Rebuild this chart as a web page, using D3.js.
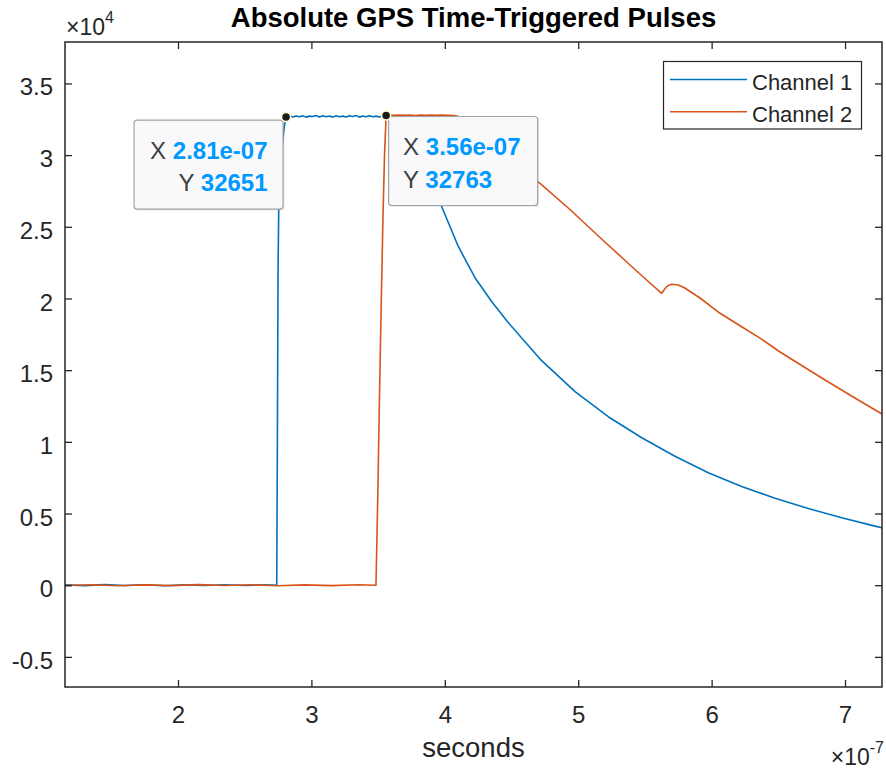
<!DOCTYPE html>
<html>
<head>
<meta charset="utf-8">
<script src="https://cdn.jsdelivr.net/npm/d3@7"></script>
<style>
  html, body { margin: 0; padding: 0; background: #ffffff; }
  svg { display: block; }
  text { font-family: "Liberation Sans", Arial, Helvetica, sans-serif; }
</style>
</head>
<body>
<svg id="chart" width="886" height="770"></svg>
<script>
// Time axis in units of 1e-7 s, sample values in ADC counts.
const TIME_EXP = -7;
const COUNT_EXP = 4;

const ch1Time = [
  1.153, 1.30, 1.45, 1.60, 1.75, 1.90, 2.05, 2.20, 2.35, 2.50, 2.65, 2.74,
  2.745, 2.75, 2.755, 2.765, 2.78, 2.795, 2.81,
  2.835, 2.86, 2.885, 2.91, 2.935, 2.96, 2.985, 3.01, 3.035, 3.06, 3.085, 3.11,
  3.135, 3.16, 3.185, 3.21, 3.235, 3.26, 3.285, 3.31, 3.335, 3.36, 3.385, 3.41,
  3.435, 3.46, 3.485, 3.51, 3.535, 3.56, 3.585, 3.61, 3.635, 3.66, 3.685, 3.71,
  3.735, 3.76, 3.785,
  3.81, 3.83, 3.86, 3.90, 3.94, 3.977, 4.101, 4.226, 4.351, 4.476, 4.726, 4.976,
  5.225, 5.476, 5.725, 5.975, 6.225, 6.475, 6.725, 6.975, 7.224, 7.277
];
const ch1Counts = [
  20, -30, 40, -20, 30, -40, 25, -15, 35, -25, 20, 0,
  10000, 22000, 26200, 28500, 30500, 31900, 32651,
  32740, 32660, 32730, 32680, 32750, 32650, 32720, 32690, 32760, 32660, 32740, 32670,
  32730, 32650, 32750, 32680, 32720, 32660, 32740, 32690, 32760, 32650, 32730, 32670,
  32750, 32680, 32720, 32660, 32740, 32690, 32750, 32660, 32730, 32680, 32760, 32670,
  32740, 32660, 32720,
  32600, 32200, 31000, 29200, 27600, 26402, 23626, 21450, 19789, 18311, 15660, 13498,
  11754, 10289, 8999, 7848, 6885, 6062, 5344, 4702, 4123, 4005
];

const ch2Time = [
  1.153, 1.35, 1.55, 1.75, 1.95, 2.15, 2.35, 2.55, 2.75, 2.95, 3.15, 3.35, 3.484,
  3.497, 3.51, 3.523, 3.536, 3.548, 3.56,
  3.58, 3.62, 3.66, 3.70, 3.74, 3.78, 3.82, 3.86, 3.90, 3.94, 3.98, 4.02, 4.06, 4.10,
  4.15, 4.22, 4.30, 4.40, 4.50, 4.60, 4.7135, 4.938, 5.163, 5.388, 5.538,
  5.626, 5.651, 5.673, 5.703, 5.748, 5.793, 5.913,
  6.063, 6.213, 6.363, 6.513, 6.663, 6.813, 6.962, 7.112, 7.277
];
const ch2Counts = [
  -20, 30, -35, 25, -30, 40, -20, 30, -40, 20, -30, 35, 0,
  6000, 13000, 19500, 25500, 30000, 32763,
  32790, 32770, 32800, 32780, 32790, 32760, 32800, 32780, 32790, 32770, 32790, 32780, 32760, 32700,
  32350, 31800, 31150, 30350, 29600, 28850, 28034, 26207, 24254, 22335, 21080,
  20361, 20696, 20905, 20989, 20940, 20766, 20034,
  18966, 18101, 17230, 16267, 15395, 14523, 13686, 12849, 11942
];

const seriesNames = ["Channel 1", "Channel 2"];
const seriesColors = ["#0072BD", "#D95319"];
const xTicks = [2, 3, 4, 5, 6, 7];
const yTicks = [-5000, 0, 5000, 10000, 15000, 20000, 25000, 30000, 35000];
const titleText = "Absolute GPS Time-Triggered Pulses";
const xLabelText = "seconds";
// Data tips: [series index, time of the marked sample]
const dataTips = [[0, 2.81], [1, 3.56]];

const W = 886, H = 770;
const plot = { left: 65, right: 882, top: 42, bottom: 687 };
const AX = "#262626";
const FONT = 24;

const svg = d3.select("#chart");
svg.append("rect").attr("width", W).attr("height", H).attr("fill", "#ffffff");

const x = d3.scaleLinear().domain([1.153, 7.277]).range([plot.left, plot.right]);
const y = d3.scaleLinear().domain([-7100, 37890]).range([plot.bottom, plot.top]);

const series = [
  d3.zip(ch1Time, ch1Counts),
  d3.zip(ch2Time, ch2Counts)
];

// clip region for the traces
svg.append("defs").append("clipPath").attr("id", "plotClip")
  .append("rect")
  .attr("x", plot.left).attr("y", plot.top)
  .attr("width", plot.right - plot.left).attr("height", plot.bottom - plot.top);

// traces
const line = d3.line().x(d => x(d[0])).y(d => y(d[1]));
const traces = svg.append("g").attr("clip-path", "url(#plotClip)");
series.forEach((pts, i) => {
  traces.append("path")
    .attr("d", line(pts))
    .attr("fill", "none")
    .attr("stroke", seriesColors[i])
    .attr("stroke-width", 1.6)
    .attr("stroke-linejoin", "round");
});

// axes (ticks point inward, box on all four sides)
const TICK = 7;
const fmtY = v => String(v / Math.pow(10, COUNT_EXP));
const fmtX = v => String(v);

const gx = svg.append("g").attr("transform", `translate(0,${plot.bottom})`)
  .call(d3.axisBottom(x).tickValues(xTicks).tickSizeInner(-TICK).tickSizeOuter(0).tickPadding(19).tickFormat(fmtX));
const gxTop = svg.append("g").attr("transform", `translate(0,${plot.top})`)
  .call(d3.axisTop(x).tickValues(xTicks).tickSizeInner(-TICK).tickSizeOuter(0).tickFormat(""));
const gy = svg.append("g").attr("transform", `translate(${plot.left},0)`)
  .call(d3.axisLeft(y).tickValues(yTicks).tickSizeInner(-TICK).tickSizeOuter(0).tickPadding(12).tickFormat(fmtY));
const gyRight = svg.append("g").attr("transform", `translate(${plot.right},0)`)
  .call(d3.axisRight(y).tickValues(yTicks).tickSizeInner(-TICK).tickSizeOuter(0).tickFormat(""));

[gx, gxTop, gy, gyRight].forEach(g => {
  g.select(".domain").remove();
  g.selectAll(".tick line").attr("stroke", AX).attr("stroke-width", 1.3);
  g.selectAll(".tick text")
    .attr("fill", AX)
    .attr("font-size", FONT)
    .attr("font-family", "'Liberation Sans', Arial, Helvetica, sans-serif");
});
gy.selectAll(".tick text").attr("dy", "0.48em");

svg.append("rect")
  .attr("x", plot.left).attr("y", plot.top)
  .attr("width", plot.right - plot.left).attr("height", plot.bottom - plot.top)
  .attr("fill", "none").attr("stroke", AX).attr("stroke-width", 1.5);

// exponent labels
const yExp = svg.append("text").attr("x", 66).attr("y", 35)
  .attr("fill", AX).attr("font-size", 23);
yExp.append("tspan").text("\u00d710");
yExp.append("tspan").attr("font-size", 16).attr("dy", -12).text(String(COUNT_EXP));

const xExp = svg.append("text").attr("x", 884).attr("y", 765)
  .attr("text-anchor", "end").attr("fill", AX).attr("font-size", 23);
xExp.append("tspan").text("\u00d710");
xExp.append("tspan").attr("font-size", 16).attr("dy", -12).text(String(TIME_EXP));

// title and axis label
svg.append("text")
  .attr("x", (plot.left + plot.right) / 2).attr("y", 27)
  .attr("text-anchor", "middle").attr("font-weight", "bold")
  .attr("font-size", 27.5).attr("fill", "#000000")
  .text(titleText);

svg.append("text")
  .attr("x", (plot.left + plot.right) / 2).attr("y", 757)
  .attr("text-anchor", "middle")
  .attr("font-size", 27.5).attr("fill", AX)
  .text(xLabelText);

// legend
const legend = svg.append("g");
legend.append("rect")
  .attr("x", 663.5).attr("y", 61.5).attr("width", 198).attr("height", 67.5)
  .attr("fill", "#ffffff").attr("stroke", AX).attr("stroke-width", 1.2);
seriesNames.forEach((name, i) => {
  const ly = 79.5 + i * 32.3;
  legend.append("line")
    .attr("x1", 670).attr("x2", 747).attr("y1", ly).attr("y2", ly)
    .attr("stroke", seriesColors[i]).attr("stroke-width", 1.6);
  legend.append("text")
    .attr("x", 752).attr("y", ly + 10.5)
    .attr("font-size", 22).attr("fill", AX)
    .text(name);
});

// data tips
const fmtTime = t => {
  const s = (t * Math.pow(10, TIME_EXP)).toExponential(2);
  return s.replace(/e([+-])(\d)$/, "e$10$2");
};
const tipLayer = svg.append("g");
dataTips.forEach(([si, t], k) => {
  const pts = series[si];
  const p = pts.find(d => Math.abs(d[0] - t) < 1e-9);
  const px = x(p[0]), py = y(p[1]);
  const bw = 149, bh = 89;
  const bx = k === 0 ? px - 3 - bw : px + 2.5;
  const by = k === 0 ? py + 3 : py + 1;

  tipLayer.append("rect")
    .attr("x", bx + 1.5).attr("y", by + 1.5).attr("width", bw).attr("height", bh)
    .attr("rx", 3).attr("fill", "#000000").attr("opacity", 0.08);
  tipLayer.append("rect")
    .attr("x", bx).attr("y", by).attr("width", bw).attr("height", bh)
    .attr("rx", 3).attr("fill", "#f9f9fc").attr("stroke", "#a3a3a3").attr("stroke-width", 1.2);

  const rows = [["X", fmtTime(p[0])], ["Y", String(p[1])]];
  rows.forEach((r, j) => {
    const txt = tipLayer.append("text")
      .attr("y", by + 38.5 + j * 32.5)
      .attr("font-size", 24);
    if (k === 0) {
      txt.attr("x", bx + bw - 15.5).attr("text-anchor", "end");
    } else {
      txt.attr("x", bx + 14.5).attr("text-anchor", "start");
    }
    txt.append("tspan").attr("fill", "#404040").text(r[0] + " ");
    txt.append("tspan").attr("fill", "#0099FF").attr("font-weight", "bold").text(r[1]);
  });

  tipLayer.append("circle")
    .attr("cx", px).attr("cy", py).attr("r", 4.5)
    .attr("fill", "#1a1a1a").attr("stroke", "#fffbd0").attr("stroke-width", 1.5);
});
</script>
</body>
</html>
